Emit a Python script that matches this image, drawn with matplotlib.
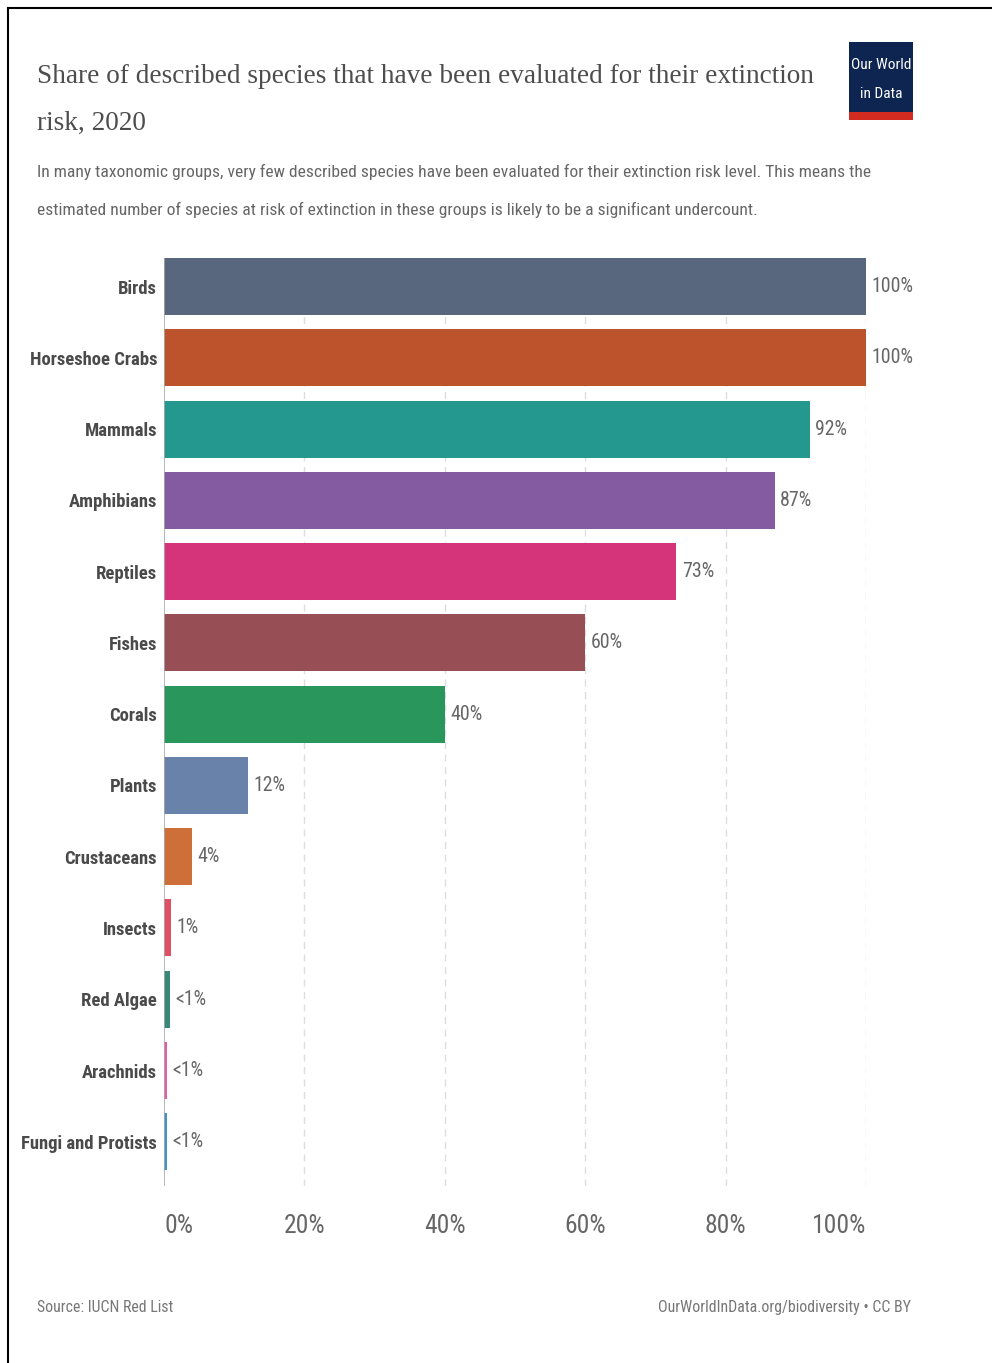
import matplotlib
matplotlib.use("Agg")
import matplotlib.pyplot as plt
from matplotlib import font_manager
from matplotlib.patches import Rectangle
from matplotlib.lines import Line2D

# ---------------- data ----------------
categories = ["Birds", "Horseshoe Crabs", "Mammals", "Amphibians", "Reptiles",
              "Fishes", "Corals", "Plants", "Crustaceans", "Insects",
              "Red Algae", "Arachnids", "Fungi and Protists"]
values = [100, 100, 92, 87, 73, 60, 40, 12, 4, 1, 0.8, 0.4, 0.4]
value_labels = ["100%", "100%", "92%", "87%", "73%", "60%", "40%", "12%",
                "4%", "1%", "<1%", "<1%", "<1%"]
bar_colors = ["#58677D", "#BC532D", "#24978E", "#845BA0", "#D6347A",
              "#974E55", "#29965C", "#6882AA", "#CE6E38", "#E05064",
              "#398778", "#E65AAA", "#3C96C8"]
x_ticks = [0, 20, 40, 60, 80, 100]
x_tick_labels = ["0%", "20%", "40%", "60%", "80%", "100%"]

title_lines = ["Share of described species that have been evaluated for their extinction",
               "risk, 2020"]
subtitle_lines = [
    "In many taxonomic groups, very few described species have been evaluated for their extinction risk level. This means the",
    "estimated number of species at risk of extinction in these groups is likely to be a significant undercount.",
]
source_text = "Source: IUCN Red List"
credit_text = "OurWorldInData.org/biodiversity \u2022 CC BY"

# ---------------- fonts ----------------
available = {f.name for f in font_manager.fontManager.ttflist}
def pick(*names):
    for n in names:
        if n in available:
            return n
    return "DejaVu Sans"

SANS = pick("Liberation Sans Narrow", "DejaVu Sans Condensed", "Roboto Condensed",
            "Open Sans Condensed", "Liberation Sans", "Roboto")
SERIF = pick("DejaVu Serif Condensed", "Liberation Serif", "DejaVu Serif")

W, H = 992, 1363
fig = plt.figure(figsize=(W / 100, H / 100), dpi=100)
fig.patch.set_facecolor("white")
renderer = fig.canvas.get_renderer()

def fx(x):
    return x / W
def fy(y):
    return 1 - y / H

def fit(t, target_w):
    w = t.get_window_extent(renderer=renderer).width
    t.set_fontsize(t.get_fontsize() * target_w / w)
    return t

def fitted_size(s, target_w, **kw):
    p = fig.text(0, 0, s, fontsize=16, family=SANS, **kw)
    fit(p, target_w)
    fs = p.get_fontsize()
    p.remove()
    return fs

# axes geometry in pixels
ax_left, ax_right = 164, 866
ax_top, ax_bottom = 258, 1186
ax = fig.add_axes([fx(ax_left), fy(ax_bottom), fx(ax_right) - fx(ax_left),
                   (ax_bottom - ax_top) / H])
n = len(categories)
ypos = list(range(n))
ax.barh(ypos, values, height=0.8, color=bar_colors, edgecolor="none", zorder=3)
ax.set_xlim(0, 100)
ax.set_ylim(n - 1 + 0.62, -0.4)
for s in ax.spines.values():
    s.set_visible(False)
ax.axvline(0, color="#aaaaaa", lw=1.2, zorder=4)
for t in x_ticks[1:]:
    ax.axvline(t, color="#dddddd", lw=1, ls=(0, (5, 4)), zorder=1)

cat_fs = fitted_size("Fungi and Protists", 136, fontweight="bold")
ax.set_yticks(ypos)
ax.set_yticklabels(categories, fontsize=cat_fs, color="#4a4a4a", family=SANS,
                   fontweight="bold")
ax.tick_params(axis="y", length=0, pad=5)

tick_fs = fitted_size("100%", 54)
ax.set_xticks(x_ticks)
ax.set_xticklabels(x_tick_labels, fontsize=tick_fs, color="#666666", family=SANS)
ax.tick_params(axis="x", length=0, pad=20)
for i, lab in enumerate(ax.get_xticklabels()):
    if i == 0:
        lab.set_ha("left")
    elif i == len(x_ticks) - 1:
        lab.set_ha("right")

val_fs = fitted_size("100%", 42)
for yi, v, lbl in zip(ypos, values, value_labels):
    ax.annotate(lbl, xy=(v, yi), xytext=(4, 0), textcoords="offset points",
                va="center", ha="left", fontsize=val_fs, color="#666666",
                family=SANS)

# ---------------- header ----------------
t1 = fig.text(fx(37), fy(83), title_lines[0], fontsize=25, color="#4d4d4d",
              family=SERIF, va="baseline", ha="left")
fit(t1, 780)
fig.text(fx(37), fy(130), title_lines[1], fontsize=t1.get_fontsize(), color="#4d4d4d",
         family=SERIF, va="baseline", ha="left")
s1 = fig.text(fx(37), fy(177), subtitle_lines[0], fontsize=15, color="#666666",
              family=SANS, va="baseline", ha="left")
fit(s1, 830)
fig.text(fx(37), fy(215), subtitle_lines[1], fontsize=s1.get_fontsize(), color="#666666",
         family=SANS, va="baseline", ha="left")

# logo
fig.patches.append(Rectangle((fx(849), fy(120)), fx(913) - fx(849), (120 - 42) / H,
                             transform=fig.transFigure, facecolor="#0D2550",
                             edgecolor="none"))
fig.patches.append(Rectangle((fx(849), fy(120)), fx(913) - fx(849), 8 / H,
                             transform=fig.transFigure, facecolor="#D42B21",
                             edgecolor="none"))
l1 = fig.text(fx(881), fy(65), "Our World", fontsize=12, color="white", family=SANS,
              ha="center", va="center")
fit(l1, 60)
fig.text(fx(881), fy(94), "in Data", fontsize=l1.get_fontsize(), color="white",
         family=SANS, ha="center", va="center")

# footer
c = fig.text(fx(911), fy(1312), credit_text, fontsize=14, color="#777777",
             family=SANS, va="baseline", ha="right")
fit(c, 255)
fig.text(fx(37), fy(1312), source_text, fontsize=c.get_fontsize(), color="#777777",
         family=SANS, va="baseline", ha="left")

# frame lines
fig.lines.append(Line2D([fx(8), fx(992)], [fy(8), fy(8)], transform=fig.transFigure,
                        color="black", lw=1.5))
fig.lines.append(Line2D([fx(8), fx(8)], [fy(8), fy(1363)], transform=fig.transFigure,
                        color="black", lw=1.5))

fig.savefig("out.png", dpi=100, facecolor="white")
